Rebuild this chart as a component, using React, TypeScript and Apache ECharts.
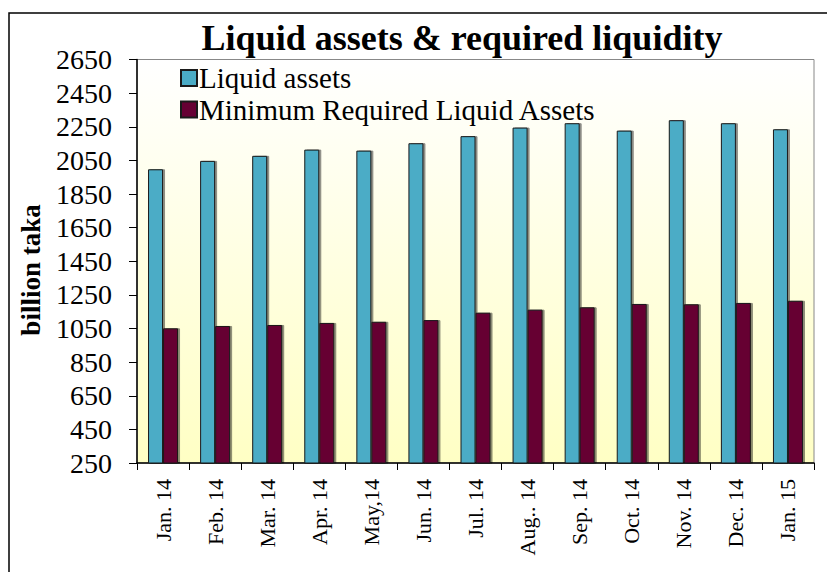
import React, { useEffect, useRef } from "react";
import * as echarts from "echarts";

const categories = [
  "Jan. 14", "Feb. 14", "Mar. 14", "Apr. 14", "May,14", "Jun. 14", "Jul. 14",
  "Aug.. 14", "Sep. 14", "Oct. 14", "Nov. 14", "Dec. 14", "Jan. 15",
];
const liquidAssets = [1997, 2047, 2077, 2114, 2108, 2152, 2194, 2245, 2271, 2227, 2289, 2271, 2235];
const minRequired = [1051, 1065, 1071, 1083, 1090, 1100, 1144, 1162, 1176, 1196, 1194, 1202, 1215];
const seriesNames = ["Liquid assets", "Minimum Required Liquid Assets"];
const titleText = "Liquid assets & required liquidity";
const yAxisTitle = "billion taka";
const yMin = 250;
const yMax = 2650;
const yStep = 200;

const FONT = "Liberation Serif";

export default function App() {
  const ref = useRef<HTMLDivElement>(null);
  useEffect(() => {
    if (!ref.current) return;
    const chart = echarts.init(ref.current, null, { renderer: "svg" });
    const barShadow = { shadowColor: "rgba(0,0,0,0.45)", shadowOffsetX: 2, shadowOffsetY: 0, shadowBlur: 0 };
    chart.setOption({
      animation: false,
      backgroundColor: "#ffffff",
      textStyle: { fontFamily: FONT, color: "#000" },
      graphic: [
        {
          type: "polyline",
          shape: { points: [[830, 13], [9, 13], [9, 580]] },
          style: { stroke: "#000", lineWidth: 1.5, fill: "none" },
          silent: true,
        },
        {
          type: "text",
          x: 462,
          y: 38,
          style: {
            text: titleText,
            font: `bold 36px ${FONT}`,
            fill: "#000",
            textAlign: "center",
            textVerticalAlign: "middle",
          },
        },
        {
          type: "text",
          x: 31,
          y: 270,
          rotation: Math.PI / 2,
          style: {
            text: yAxisTitle,
            font: `bold 27px ${FONT}`,
            fill: "#000",
            textAlign: "center",
            textVerticalAlign: "middle",
          },
        },
      ],
      legend: {
        orient: "vertical",
        left: 180,
        top: 62.5,
        itemWidth: 16,
        itemHeight: 16,
        itemGap: 0.5,
        icon: "rect",
        padding: 0,
        textStyle: { fontFamily: FONT, fontSize: 29, color: "#000", lineHeight: 29, padding: [2, 0, 0, -3] },
        data: seriesNames,
      },
      grid: {
        left: 137,
        right: 13,
        top: 59.5,
        bottom: 109,
        show: true,
        borderColor: "#888",
        borderWidth: 1,
        backgroundColor: new echarts.graphic.LinearGradient(0, 0, 0, 1, [
          { offset: 0, color: "#ffffff" },
          { offset: 1, color: "#ffffc4" },
        ]),
      },
      xAxis: {
        type: "category",
        data: categories,
        axisLine: { lineStyle: { color: "#000", width: 1.5 } },
        axisTick: { show: true, length: 7, lineStyle: { color: "#000" } },
        axisLabel: {
          rotate: 90,
          margin: 16,
          fontFamily: FONT,
          fontSize: 22,
          color: "#000",
          interval: 0,
        },
      },
      yAxis: {
        type: "value",
        min: yMin,
        max: yMax,
        interval: yStep,
        axisLine: { show: true, lineStyle: { color: "#000", width: 1.5 } },
        axisTick: { show: true, length: 8, lineStyle: { color: "#000" } },
        splitLine: { show: false },
        axisLabel: {
          margin: 25,
          fontFamily: FONT,
          fontSize: 28,
          color: "#000",
          formatter: (v: number) => String(v),
        },
      },
      series: [
        {
          name: seriesNames[0],
          type: "bar",
          data: liquidAssets,
          barWidth: 15,
          barGap: "0%",
          itemStyle: { color: "#4bacc6", borderColor: "#1a1a1a", borderWidth: 1, ...barShadow },
        },
        {
          name: seriesNames[1],
          type: "bar",
          data: minRequired,
          barWidth: 15,
          barGap: "0%",
          itemStyle: { color: "#660033", borderColor: "#1a1a1a", borderWidth: 1, ...barShadow },
        },
      ],
    });
    return () => chart.dispose();
  }, []);
  return (
    <div
      ref={ref}
      style={{ position: "fixed", left: 0, top: 0, width: 827, height: 572 }}
    />
  );
}
